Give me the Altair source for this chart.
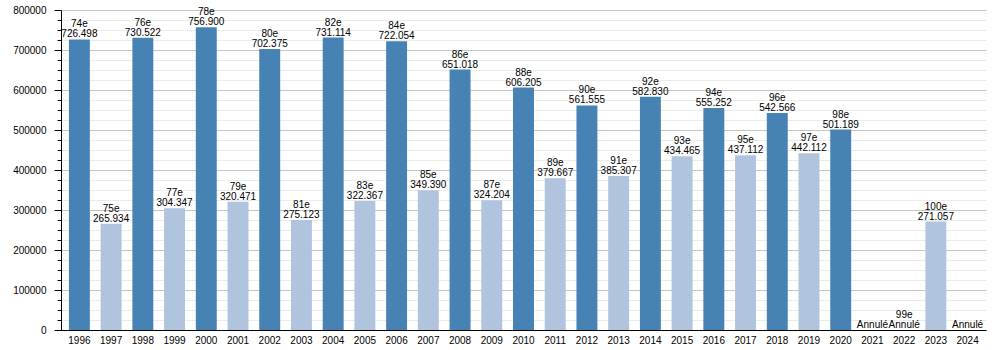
import altair as alt
import pandas as pd

years = [1996, 1997, 1998, 1999, 2000, 2001, 2002, 2003, 2004, 2005,
         2006, 2007, 2008, 2009, 2010, 2011, 2012, 2013, 2014, 2015,
         2016, 2017, 2018, 2019, 2020, 2021, 2022, 2023, 2024]
values = [726498, 265934, 730522, 304347, 756900, 320471, 702375, 275123,
          731114, 322367, 722054, 349390, 651018, 324204, 606205, 379667,
          561555, 385307, 582830, 434465, 555252, 437112, 542566, 442112,
          501189, None, None, 271057, None]
editions = ["74e", "75e", "76e", "77e", "78e", "79e", "80e", "81e", "82e",
            "83e", "84e", "85e", "86e", "87e", "88e", "89e", "90e", "91e",
            "92e", "93e", "94e", "95e", "96e", "97e", "98e", "", "99e",
            "100e", ""]
cancel_text = "Annulé"
y_ticks = list(range(0, 800001, 25000))


def fmt(v):
    if v is None:
        return cancel_text
    return f"{v:,}".replace(",", ".")


df = pd.DataFrame({
    "year": [str(y) for y in years],
    "value": values,
    "ylab": [v if v is not None else 0 for v in values],
    "parity": ["pair" if y % 2 == 0 else "impair" for y in years],
    "edition": editions,
    "vlabel": [fmt(v) for v in values],
})

FONT = "Liberation Sans"
MAJOR = "datum.value % 100000 === 0"

x_axis = alt.Axis(labelAngle=0, ticks=False, domainColor="black",
                  labelFontSize=10, labelPadding=5, labelColor="black",
                  labelFont=FONT, grid=False)
x_scale = alt.Scale(paddingInner=0.34, paddingOuter=0.25)

y_scale = alt.Scale(domain=[0, 800000], nice=False, zero=True)
y_axis = alt.Axis(
    values=y_ticks,
    format="d",
    labelExpr=MAJOR + " ? datum.label : ''",
    labelOverlap=False,
    domainColor="black",
    tickColor="black",
    tickSize={"condition": {"test": MAJOR, "value": 7}, "value": 4},
    gridColor={"condition": {"test": MAJOR, "value": "#c4c4c4"}, "value": "#ebebeb"},
    gridOpacity=1,
    labelFontSize=10, labelColor="black", labelFont=FONT,
    labelPadding=8,
)

base = alt.Chart(df)

bars = base.mark_bar().encode(
    x=alt.X("year:O", title=None, scale=x_scale, axis=x_axis),
    y=alt.Y("value:Q", title=None, scale=y_scale, axis=y_axis),
    color=alt.Color("parity:N", legend=None,
                    scale=alt.Scale(domain=["pair", "impair"],
                                    range=["#4682b4", "#b0c4de"])),
)

value_text = base.mark_text(
    fontSize=10, font=FONT, baseline="alphabetic", dy=-2, color="black",
).encode(
    x=alt.X("year:O", title=None, scale=x_scale, axis=x_axis),
    y=alt.Y("ylab:Q", title=None, scale=y_scale, axis=y_axis),
    text="vlabel:N",
)

edition_text = base.mark_text(
    fontSize=10, font=FONT, baseline="alphabetic", dy=-12, color="black",
).encode(
    x=alt.X("year:O", title=None, scale=x_scale, axis=x_axis),
    y=alt.Y("ylab:Q", title=None, scale=y_scale, axis=y_axis),
    text="edition:N",
)

chart = alt.layer(bars, value_text, edition_text).properties(
    width=925, height=320,
    autosize=alt.AutoSizeParams(type="none"),
    padding={"left": 61, "top": 10, "right": 14, "bottom": 20},
).configure_view(stroke=None)

chart.save("out.html", embed_options={"renderer": "svg", "actions": False})
